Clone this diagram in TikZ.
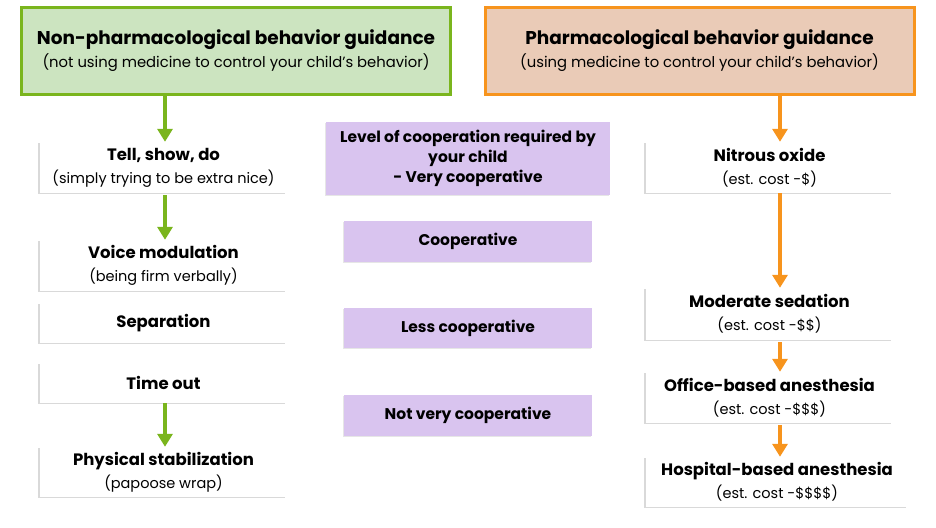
\documentclass[tikz,border=0pt]{standalone}
\usepackage{fontspec}
\setmainfont{Poppins}
\usetikzlibrary{shadows,calc,arrows.meta}
\definecolor{gborder}{HTML}{7AB51D}
\definecolor{gfill}{HTML}{CCE4C0}
\definecolor{oborder}{HTML}{F7941D}
\definecolor{ofill}{HTML}{EACBB7}
\definecolor{pfill}{HTML}{D9C4EF}
\newcommand{\ttl}[1]{{\fontsize{16.5}{23}\selectfont\bfseries #1}}
\newcommand{\sub}[1]{{\fontsize{14.5}{23}\selectfont #1}}
\newcommand{\htl}[1]{{\fontsize{18.5}{23}\selectfont\bfseries #1}}
\newcommand{\hsub}[1]{{\fontsize{14.8}{23}\selectfont #1}}
\tikzset{
  hdr/.style={draw, line width=3pt, align=center, inner sep=0pt,
    minimum width=429pt, minimum height=87pt, font=\fontsize{15}{23}\selectfont,
    drop shadow={shadow xshift=-1.5pt, shadow yshift=-1.5pt, opacity=0.25}},
  wbox/.style={fill=white, align=center, inner sep=0pt, minimum width=247pt,
    font=\fontsize{15}{23}\selectfont,
    drop shadow={shadow xshift=-2.5pt, shadow yshift=-1pt, opacity=0.3}},
  pbox/.style={fill=pfill, align=center, inner sep=0pt,
    font=\fontsize{15.5}{20}\selectfont\bfseries,
    drop shadow={shadow xshift=-1.5pt, shadow yshift=-1pt, opacity=0.2}},
  garrow/.style={draw=gborder, line width=3.5pt, -{Triangle[length=13pt,width=15pt]}},
  oarrow/.style={draw=oborder, line width=3.5pt, -{Triangle[length=13pt,width=15pt]}},
}
\begin{document}
\begin{tikzpicture}[x=1pt,y=-1pt]
\useasboundingbox (0,0) rectangle (936,527);
% headers
\node[hdr, draw=gborder, fill=gfill] (hl) at (236,51)
  {\htl{Non-pharmacological behavior guidance}\\\hsub{(not using medicine to control your child’s behavior)}};
\node[hdr, draw=oborder, fill=ofill] (hr) at (699.5,51)
  {\htl{Pharmacological behavior guidance}\\\hsub{(using medicine to control your child’s behavior)}};
% left column
\node[wbox, minimum height=51pt] (t1) at (163.5,167.5) {\ttl{Tell, show, do}\\\sub{(simply trying to be extra nice)}};
\node[wbox, minimum height=51pt] (t2) at (163.5,265.5) {\ttl{Voice modulation}\\\sub{(being firm verbally)}};
\node[wbox, minimum height=40pt] (t3) at (163.5,323) {\ttl{Separation}};
\node[wbox, minimum height=40pt] (t4) at (163.5,383) {\ttl{Time out}};
\node[wbox, minimum height=50pt] (t5) at (163.5,472) {\ttl{Physical stabilization}\\\sub{(papoose wrap)}};
% middle column
\node[pbox, minimum width=284pt, minimum height=73pt] (p0) at (468,158.5)
  {Level of cooperation required by\\your child\\- Very cooperative};
\node[pbox, minimum width=248pt, minimum height=41pt] (p1) at (468,241.5) {Cooperative};
\node[pbox, minimum width=248pt, minimum height=40pt] (p2) at (468,328) {Less cooperative};
\node[pbox, minimum width=248pt, minimum height=41pt] (p3) at (468,415.5) {Not very cooperative};
% right column
\node[wbox, minimum height=51pt] (r1) at (769.5,167.5) {\ttl{Nitrous oxide}\\\sub{(est. cost -\$)}};
\node[wbox, minimum height=52pt] (r2) at (769.5,314) {\ttl{Moderate sedation}\\\sub{(est. cost -\$\$)}};
\node[wbox, minimum height=51pt] (r3) at (769.5,397.5) {\ttl{Office-based anesthesia}\\\sub{(est. cost -\$\$\$)}};
\node[wbox, minimum height=50pt, minimum width=262pt] (r4) at (777,482) {\ttl{Hospital-based anesthesia}\\\sub{(est. cost -\$\$\$\$)}};
% arrow columns
\coordinate (gx) at ([xshift=1.5pt]t1.north);
\coordinate (ox) at ([xshift=10.5pt]r1.north);
% arrows
\draw[garrow] (gx |- hl.south) -- (gx |- t1.north);
\draw[garrow] ([yshift=-2pt]gx |- t1.south) -- (gx |- t2.north);
\draw[garrow] (gx |- t4.south) -- (gx |- t5.north);
\draw[oarrow] (ox |- hr.south) -- (ox |- r1.north);
\draw[oarrow] (ox |- r1.south) -- (ox |- r2.north);
\draw[oarrow] ([yshift=-2pt]ox |- r2.south) -- (ox |- r3.north);
\draw[oarrow] ([yshift=-2pt]ox |- r3.south) -- (ox |- r4.north);
\end{tikzpicture}
\end{document}
